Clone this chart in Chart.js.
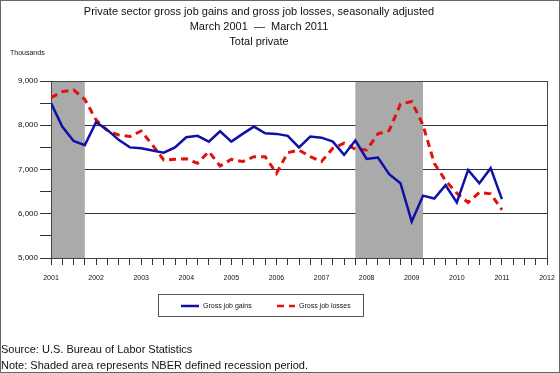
<!DOCTYPE html>
<html>
<head>
<meta charset="utf-8">
<script src="https://cdn.jsdelivr.net/npm/chart.js@4/dist/chart.umd.min.js"></script>
<style>
  body { margin: 0; background: #fff; }
  #wrap { position: relative; width: 560px; height: 373px; font-family: "Liberation Sans", Arial, sans-serif; color: #111; }
  #chart { position: absolute; left: 0; top: 0; }
  #frame { position: absolute; left: 0; top: 0; right: 0; bottom: 0; border: 1px solid #666; pointer-events: none; }
  #title { position: absolute; left: 0; top: 4px; width: 518px; text-align: center; font-size: 11px; line-height: 15px; }
  #units { position: absolute; left: 10px; top: 48px; font-size: 7px; line-height: 10px; }
  #legend { position: absolute; left: 158px; top: 294px; width: 204px; height: 21px; border: 1px solid #555; font-size: 7px; }
  .item { position: absolute; top: 6px; line-height: 10px; white-space: nowrap; }
  .item svg { vertical-align: middle; margin-right: 4px; }
  #notes { position: absolute; left: 1px; top: 341px; font-size: 11px; line-height: 16px; }
</style>
</head>
<body>
<div id="wrap">
  <canvas id="chart" width="560" height="373"></canvas>
  <div id="title">Private sector gross job gains and gross job losses, seasonally adjusted<br>March 2001 &nbsp;&mdash;&nbsp; March 2011<br>Total private</div>
  <div id="units">Thousands</div>
  <div id="legend"></div>
  <div id="notes">Source: U.S. Bureau of Labor Statistics<br>Note: Shaded area represents NBER defined recession period.</div>
  <div id="frame"></div>
</div>
<script>
// quarterly data, March 2001 - March 2011 (thousands)
const startYear = 2001;
const quarterCount = 41;
const gains = [8500, 7970, 7645, 7550, 8070, 7895, 7670, 7500, 7480, 7430,
  7380, 7500, 7730, 7760, 7630, 7865, 7630, 7805, 7970, 7820,
  7805, 7760, 7500, 7745, 7720, 7630, 7330, 7655, 7240, 7270,
  6895, 6690, 5825, 6410, 6345, 6645, 6255, 6990, 6690, 7030, 6330];
const losses = [8625, 8760, 8800, 8585, 8120, 7880, 7780, 7745, 7870, 7555,
  7215, 7230, 7245, 7140, 7405, 7080, 7230, 7180, 7290, 7290,
  6915, 7380, 7440, 7290, 7180, 7480, 7595, 7460, 7440, 7805,
  7880, 8480, 8535, 8005, 7140, 6750, 6465, 6255, 6480, 6450, 6090];
const yearTicks = [2001, 2002, 2003, 2004, 2005, 2006, 2007, 2008, 2009, 2010, 2011, 2012];
const valueTicks = [5000, 6000, 7000, 8000, 9000];
// NBER recessions, in decimal years
const recessions = [[2001.0, 2001.75], [2007.75, 2009.25]];

const quarterPos = [];
for (let i = 0; i < quarterCount; i++) quarterPos.push(startYear + i / 4);

const toPoints = arr => arr.map((v, i) => ({ x: quarterPos[i], y: v }));

const shading = {
  id: 'shading',
  beforeDatasetsDraw(chart) {
    const { ctx, chartArea: a, scales: { x } } = chart;
    ctx.save();
    ctx.fillStyle = '#aaaaaa';
    recessions.forEach(r => {
      const x0 = x.getPixelForValue(r[0]);
      const x1 = x.getPixelForValue(r[1]);
      ctx.fillRect(x0, a.top, x1 - x0, a.bottom - a.top);
    });
    // plot frame on top of the shading
    ctx.strokeStyle = '#444';
    ctx.lineWidth = 1;
    ctx.strokeRect(Math.round(a.left) + 0.5, Math.round(a.top) + 0.5,
      Math.round(a.right - a.left), Math.round(a.bottom - a.top));
    ctx.restore();
  }
};

const chart = new Chart(document.getElementById('chart'), {
  type: 'line',
  data: {
    datasets: [
      {
        label: 'Gross job gains',
        data: toPoints(gains),
        borderColor: '#1010a8',
        borderWidth: 2.5,
        pointRadius: 0,
        tension: 0
      },
      {
        label: 'Gross job losses',
        data: toPoints(losses),
        borderColor: '#e0120c',
        borderWidth: 3,
        borderDash: [7, 5],
        pointRadius: 0,
        tension: 0
      }
    ]
  },
  options: {
    responsive: false,
    animation: false,
    layout: { padding: { left: 0, top: 81, right: 13, bottom: 85 } },
    plugins: { legend: { display: false }, tooltip: { enabled: false } },
    scales: {
      x: {
        type: 'linear',
        min: yearTicks[0],
        max: yearTicks[yearTicks.length - 1],
        afterFit: s => { s.height = 30; s.paddingLeft = 0; s.paddingRight = 0; },
        ticks: {
          stepSize: 0.25,
          autoSkip: false,
          maxRotation: 0,
          padding: 9,
          color: '#111',
          font: { family: 'Liberation Sans', size: 7 },
          callback: v => yearTicks.includes(v) ? String(v) : ''
        },
        grid: { drawOnChartArea: false, tickLength: 7, tickColor: '#333' },
        border: { color: '#333' }
      },
      y: {
        min: valueTicks[0],
        max: valueTicks[valueTicks.length - 1],
        afterFit: s => { s.width = 51; },
        ticks: {
          stepSize: 500,
          padding: 2,
          color: '#111',
          font: { family: 'Liberation Sans', size: 8 },
          callback: v => valueTicks.includes(v) ? v.toLocaleString('en-US') : ''
        },
        grid: {
          tickLength: 11,
          tickColor: '#333',
          color: c => (valueTicks.includes(c.tick.value) ? '#333' : 'rgba(0,0,0,0)')
        },
        border: { color: '#333' }
      }
    }
  },
  plugins: [shading]
});

// legend built from the datasets
const legend = document.getElementById('legend');
const legendX = [22, 118];
chart.data.datasets.forEach((ds, i) => {
  const item = document.createElement('div');
  item.className = 'item';
  item.style.left = legendX[i] + 'px';
  const dash = ds.borderDash ? ds.borderDash.join(' ') : 'none';
  item.innerHTML = '<svg width="18" height="4"><line x1="0" y1="2" x2="18" y2="2" stroke="' +
    ds.borderColor + '" stroke-width="2.5" stroke-dasharray="' + dash + '"/></svg>' + ds.label;
  legend.appendChild(item);
});
</script>
</body>
</html>
